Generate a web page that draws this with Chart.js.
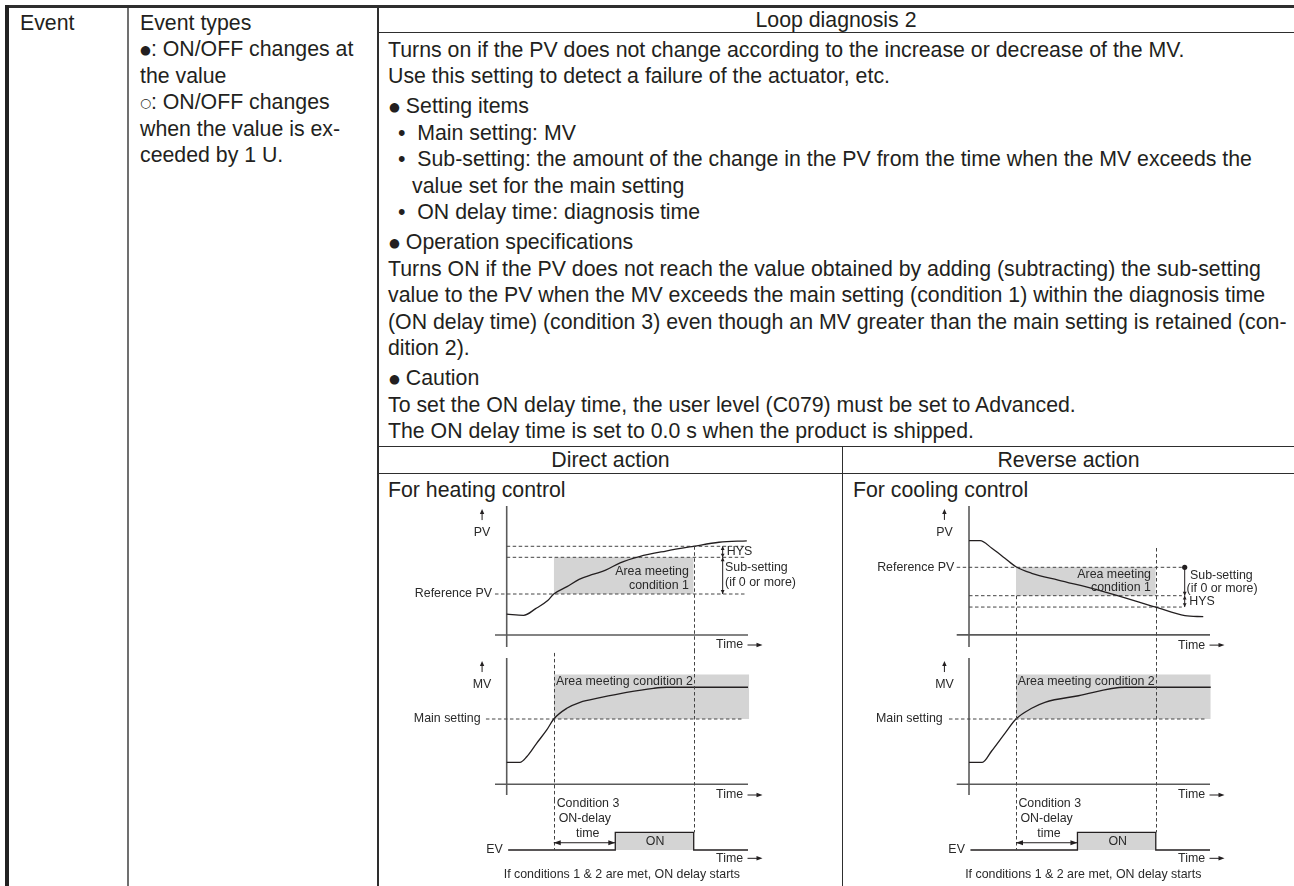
<!DOCTYPE html>
<html>
<head>
<meta charset="utf-8">
<title>Loop diagnosis 2</title>
<script src="https://cdn.jsdelivr.net/npm/chart.js@4.4.1/dist/chart.umd.min.js"></script>
<style>
  body { margin: 0; background: #fff; }
  #page { position: relative; width: 1294px; height: 886px; overflow: hidden;
          font-family: 'Liberation Sans', Arial, Helvetica, sans-serif; color: #231f20; }
  .t { position: absolute; font-size: 21.3px; line-height: 27px; white-space: nowrap; }
  .rule { position: absolute; background: #2e2e2e; }
  .dot { font-family: 'DejaVu Sans', sans-serif; font-size: 12.5px; position: relative; top: -2px; }
  canvas { position: absolute; }
</style>
</head>
<body>
<div id="page">
  <!-- table rules -->
  <div class="rule" style="left:5px;top:5px;width:1289px;height:3px;"></div>
  <div class="rule" style="left:5px;top:5px;width:4px;height:881px;background:#222;"></div>
  <div class="rule" style="left:127px;top:8px;width:1.5px;height:878px;background:#707070;"></div>
  <div class="rule" style="left:377px;top:8px;width:1.6px;height:878px;"></div>
  <div class="rule" style="left:378px;top:32px;width:916px;height:1.3px;"></div>
  <div class="rule" style="left:378px;top:446px;width:916px;height:1.3px;"></div>
  <div class="rule" style="left:378px;top:473px;width:916px;height:1.3px;"></div>
  <div class="rule" style="left:842px;top:446px;width:1.3px;height:440px;"></div>

  <!-- column 1 and 2 -->
  <div class="t" style="left:20px;top:10px;">Event</div>
  <div class="t" style="left:140px;top:10px;">Event types</div>
  <div class="t" style="left:140px;top:36.4px;"><span class="dot">●</span>: ON/OFF changes at</div>
  <div class="t" style="left:140px;top:62.8px;">the value</div>
  <div class="t" style="left:140px;top:89.2px;"><span class="dot">○</span>: ON/OFF changes</div>
  <div class="t" style="left:140px;top:115.6px;">when the value is ex-</div>
  <div class="t" style="left:140px;top:142px;">ceeded by 1 U.</div>

  <!-- column 3 -->
  <div class="t" style="left:378px;width:916px;text-align:center;top:7px;">Loop diagnosis 2</div>
  <div class="t" style="left:388px;top:36.5px;">Turns on if the PV does not change according to the increase or decrease of the MV.</div>
  <div class="t" style="left:388px;top:62.9px;">Use this setting to detect a failure of the actuator, etc.</div>
  <div class="t" style="left:389px;top:93.3px;"><span class="dot">●</span> Setting items</div>
  <div class="t" style="left:398px;top:119.7px;">•&nbsp; Main setting: MV</div>
  <div class="t" style="left:398px;top:146.1px;">•&nbsp; Sub-setting: the amount of the change in the PV from the time when the MV exceeds the</div>
  <div class="t" style="left:412px;top:172.5px;">value set for the main setting</div>
  <div class="t" style="left:398px;top:198.9px;">•&nbsp; ON delay time: diagnosis time</div>
  <div class="t" style="left:389px;top:229.3px;"><span class="dot">●</span> Operation specifications</div>
  <div class="t" style="left:388px;top:255.7px;">Turns ON if the PV does not reach the value obtained by adding (subtracting) the sub-setting</div>
  <div class="t" style="left:388px;top:282.1px;">value to the PV when the MV exceeds the main setting (condition 1) within the diagnosis time</div>
  <div class="t" style="left:388px;top:308.5px;">(ON delay time) (condition 3) even though an MV greater than the main setting is retained (con-</div>
  <div class="t" style="left:388px;top:334.9px;">dition 2).</div>
  <div class="t" style="left:389px;top:365.3px;"><span class="dot">●</span> Caution</div>
  <div class="t" style="left:388px;top:391.7px;">To set the ON delay time, the user level (C079) must be set to Advanced.</div>
  <div class="t" style="left:388px;top:418.1px;">The ON delay time is set to 0.0 s when the product is shipped.</div>

  <div class="t" style="left:378px;width:465px;text-align:center;top:446.5px;">Direct action</div>
  <div class="t" style="left:843px;width:451px;text-align:center;top:446.5px;">Reverse action</div>
  <div class="t" style="left:388px;top:476.5px;">For heating control</div>
  <div class="t" style="left:853px;top:476.5px;">For cooling control</div>
</div>

<script>
// ---- data (time 0..100 = length of the time axis) ----
const condStart = 19.5;   // MV reaches the main setting
const delayEnd = 45;      // ON-delay time elapsed, EV turns ON
const pvReach = 77.5;     // PV reaches setting + HYS, EV turns OFF

// heating (direct action)
const pvTimeHeat = [0, 7, 12, 17, 19.5, 25, 30, 36, 41, 47, 55, 66, 77.5, 88, 99.5];
const pvHeat = [44.5, 44.2, 46, 48.2, 50, 52, 54, 55.4, 56.5, 58.5, 60.2, 61.7, 63, 64.1, 64.5];
const mvTimeHeat = [0, 5.5, 8.3, 12.4, 16.6, 19.5, 24.9, 30.4, 38.7, 49.7, 60.8, 66.3, 100];
const mvHeat = [16.8, 16.8, 21.1, 31.4, 41.6, 50, 58.2, 62.8, 66.3, 70.4, 73.5, 74.3, 74.3];

// cooling (reverse action)
const pvTimeCool = [0, 4.6, 9.5, 14.9, 19.5, 26, 37, 53.7, 77.5, 89.6, 97.2];
const pvCool = [59.4, 59.4, 56.7, 53.2, 50.2, 47.9, 45.5, 42, 36, 33, 32.6];
const mvTimeCool = [0, 5.5, 9.4, 14.9, 19.5, 26, 31.5, 45.4, 64.7, 100.3];
const mvCool = [16.8, 16.8, 25.5, 39, 50, 58.2, 62.8, 67.8, 74.3, 74.3];

// event output
const evTime = [0.6, 45, 45, 77.5, 77.5, 100];
const evState = [0, 0, 1, 1, 0, 0];

// settings
const refPV = 50;
const subSettingHeat = 10, hysHeat = 3;
const subSettingCool = 10, hysCool = 4;
const mainSetting = 50, mvAreaTop = 84;

// ---- styling ----
const FONT = "'Liberation Sans', Arial, sans-serif";
const INK = '#231f20';
const AXIS = '#5a5a5a';
const DASH = '#444';
const SHADE = '#d4d4d4';

const pts = (xs, ys) => xs.map((x, i) => ({ x, y: ys[i] }));
const seg = (x1, y1, x2, y2) => [{ x: x1, y: y1 }, { x: x2, y: y2 }];
const curve = data => ({ data, borderColor: INK, borderWidth: 1.3, tension: 0.4, cubicInterpolationMode: 'monotone', fill: false });
const step = data => ({ data, borderColor: INK, borderWidth: 1.3, fill: false });
const dashed = data => ({ data, borderColor: DASH, borderWidth: 1, borderDash: [3.5, 2.5], fill: false });
const axis = data => ({ data, borderColor: AXIS, borderWidth: 1.6, fill: false });
const shade = (data, to) => ({ data, borderWidth: 0, borderColor: 'rgba(0,0,0,0)', backgroundColor: SHADE, fill: { value: to } });

function head(ctx, x, y, dx, dy, len, half) {
    ctx.beginPath();
    ctx.moveTo(x, y);
    ctx.lineTo(x - dx * len - dy * half, y - dy * len + dx * half);
    ctx.lineTo(x - dx * len + dy * half, y - dy * len - dx * half);
    ctx.closePath();
    ctx.fill();
}

// labels, arrows and dashed guides, placed through the chart scales
const marksPlugin = {
    id: 'marks',
    afterDatasetsDraw(chart, args, opts) {
        const ctx = chart.ctx;
        const X = t => chart.scales.x.getPixelForValue(t);
        const Y = v => (typeof v === 'string') ? opts.seams[v] : chart.scales.y.getPixelForValue(v);
        ctx.save();

        ctx.strokeStyle = DASH;
        ctx.lineWidth = 1;
        ctx.setLineDash([3.5, 2.5]);
        (opts.vlines || []).forEach(l => {
            ctx.beginPath();
            ctx.moveTo(Math.round(X(l.t)) + 0.5, Y(l.from));
            ctx.lineTo(Math.round(X(l.t)) + 0.5, Y(l.to));
            ctx.stroke();
        });
        ctx.setLineDash([]);

        ctx.strokeStyle = INK;
        ctx.fillStyle = INK;
        ctx.lineWidth = 1;
        (opts.arrows || []).forEach(a => {
            if (a.kind === 'up') {
                const x = X(a.t), y = Y(a.v);
                ctx.beginPath(); ctx.moveTo(x, y - 13); ctx.lineTo(x, y - 20); ctx.stroke();
                head(ctx, x, y - 24, 0, -1, 5, 2.2);
            } else if (a.kind === 'time') {
                const x = X(a.t), y = Y(a.v);
                ctx.beginPath(); ctx.moveTo(x, y); ctx.lineTo(x + 10, y); ctx.stroke();
                head(ctx, x + 15, y, 1, 0, 6, 2.2);
            } else if (a.kind === 'span') {
                const x = X(a.t), y1 = Y(a.v1), y2 = Y(a.v2);
                const d = Math.sign(y2 - y1);
                const hl = Math.min(4, Math.abs(y2 - y1) / 3);
                ctx.beginPath(); ctx.moveTo(x, y1); ctx.lineTo(x, y2); ctx.stroke();
                head(ctx, x, y2, 0, d, hl, 1.9);
                if (!a.dot) head(ctx, x, y1, 0, -d, hl, 1.9);
                else { ctx.beginPath(); ctx.arc(x, y1, 2.6, 0, Math.PI * 2); ctx.fill(); }
            } else if (a.kind === 'hspan') {
                const x1 = X(a.t1), x2 = X(a.t2), y = Y(a.v);
                ctx.beginPath(); ctx.moveTo(x1, y); ctx.lineTo(x2, y); ctx.stroke();
                head(ctx, x1, y, -1, 0, 7, 2.4);
                head(ctx, x2, y, 1, 0, 7, 2.4);
            }
        });

        ctx.font = '12.4px ' + FONT;
        ctx.fillStyle = '#2a2a2a';
        ctx.textBaseline = 'middle';
        (opts.labels || []).forEach(l => {
            ctx.textAlign = l.align || 'left';
            ctx.fillText(l.text, X(l.t), Y(l.v));
        });
        ctx.restore();
    }
};

// horizontal layout of each half: where time 0 sits and pixels per time unit
const sides = {
    heat: { left: 400, width: 445, axisPx: 506.7, pxPerT: 2.413 },
    cool: { left: 845, width: 449, axisPx: 969, pxPerT: 2.41 }
};
// vertical bands of the three small graphs
const rows = {
    pv: { top: 500, bottom: 660, seamTop: 500, seamBottom: 650 },
    mv: { top: 650, bottom: 806, seamTop: 650, seamBottom: 800 },
    ev: { top: 794, bottom: 886, seamTop: 800, seamBottom: 886 }
};

function panel(side, row, yMap, datasets, marks) {
    const s = sides[side], r = rows[row];
    const canvas = document.createElement('canvas');
    canvas.width = s.width;
    canvas.height = r.bottom - r.top;
    canvas.style.left = s.left + 'px';
    canvas.style.top = r.top + 'px';
    document.getElementById('page').appendChild(canvas);

    const xMin = -(s.axisPx - s.left) / s.pxPerT;
    const xMax = xMin + s.width / s.pxPerT;
    const yMax = yMap.v + (yMap.px - r.top) / yMap.pxPerV;
    const yMin = yMap.v - (r.bottom - yMap.px) / yMap.pxPerV;
    marks.seams = { seamTop: r.seamTop - r.top, seamBottom: r.seamBottom - r.top };

    return new Chart(canvas.getContext('2d'), {
        type: 'line',
        data: { datasets },
        options: {
            responsive: false,
            animation: false,
            devicePixelRatio: 1,
            layout: { padding: 0 },
            elements: { point: { radius: 0, hoverRadius: 0 } },
            plugins: { legend: { display: false }, tooltip: { enabled: false }, marks },
            scales: {
                x: { type: 'linear', min: xMin, max: xMax, display: false },
                y: { type: 'linear', min: yMin, max: yMax, display: false }
            }
        },
        plugins: [marksPlugin]
    });
}

const mvMap = { v: 0, px: 784.3, pxPerV: 1.306 };
const evMap = { v: 0, px: 850, pxPerV: 17.7 };

// ---------- direct action / heating ----------
const hSub = refPV + subSettingHeat, hHys = hSub + hysHeat;
panel('heat', 'pv', { v: refPV, px: 594, pxPerV: 3.67 }, [
    curve(pts(pvTimeHeat, pvHeat)),
    dashed(seg(-4.85, refPV, 98.8, refPV)),
    dashed(seg(0, hSub, 98.8, hSub)),
    dashed(seg(0, hHys, 98.8, hHys)),
    axis(seg(0, 35.56, 0, 73.98)),
    axis(seg(-4.85, 38.83, 100, 38.83)),
    shade(seg(condStart, refPV, pvReach, refPV), hSub)
], {
    vlines: [{ t: pvReach, from: hHys, to: 'seamBottom' }],
    arrows: [
        { kind: 'up', t: -10.2, v: 66.6 },
        { kind: 'time', t: 99.8, v: 36.1 },
        { kind: 'span', t: 89.5, v1: hSub, v2: hHys },
        { kind: 'span', t: 89.5, v1: refPV, v2: hSub }
    ],
    labels: [
        { text: 'PV', t: -10.2, v: 66.6, align: 'center' },
        { text: 'Reference PV', t: -6.1, v: refPV, align: 'right' },
        { text: 'HYS', t: 91.2, v: 61.6 },
        { text: 'Sub-setting', t: 90.5, v: 57.1 },
        { text: '(if 0 or more)', t: 90.5, v: 53 },
        { text: 'Area meeting', t: 75.5, v: 56.1, align: 'right' },
        { text: 'condition 1', t: 75.5, v: 52.3, align: 'right' },
        { text: 'Time', t: 98, v: 36.1, align: 'right' }
    ]
});

panel('heat', 'mv', mvMap, [
    curve(pts(mvTimeHeat, mvHeat)),
    dashed(seg(-8.6, mainSetting, 97.9, mainSetting)),
    axis(seg(0, -8.2, 0, 96.7)),
    axis(seg(-4.85, 0, 100, 0)),
    shade(seg(condStart, mainSetting, 100.5, mainSetting), mvAreaTop)
], {
    vlines: [{ t: condStart, from: 100.6, to: 'seamBottom' }, { t: pvReach, from: 'seamTop', to: 'seamBottom' }],
    arrows: [{ kind: 'up', t: -10.2, v: 76 }, { kind: 'time', t: 99.8, v: -8.2 }],
    labels: [
        { text: 'MV', t: -10.2, v: 76, align: 'center' },
        { text: 'Main setting', t: -10.8, v: mainSetting, align: 'right' },
        { text: 'Area meeting condition 2', t: 20.4, v: 78.6 },
        { text: 'Time', t: 98, v: -8.2, align: 'right' }
    ]
});

panel('heat', 'ev', evMap, [
    step(pts(evTime, evState)),
    shade(seg(delayEnd, 1, pvReach, 1), 0)
], {
    vlines: [{ t: condStart, from: 'seamTop', to: 0 }, { t: pvReach, from: 'seamTop', to: 1 }],
    arrows: [{ kind: 'hspan', t1: condStart, t2: delayEnd, v: 0.41 }, { kind: 'time', t: 99.8, v: -0.47 }],
    labels: [
        { text: 'Condition 3', t: 20.7, v: 2.6 },
        { text: 'ON-delay', t: 32.4, v: 1.79, align: 'center' },
        { text: 'time', t: 33.6, v: 0.94, align: 'center' },
        { text: 'ON', t: 61.5, v: 0.47, align: 'center' },
        { text: 'EV', t: -1.6, v: 0, align: 'right' },
        { text: 'Time', t: 98, v: -0.47, align: 'right' },
        { text: 'If conditions 1 & 2 are met, ON delay starts', t: 47.7, v: -1.41, align: 'center' }
    ]
});

// ---------- reverse action / cooling ----------
const cSub = refPV - subSettingCool, cHys = cSub - hysCool;
panel('cool', 'pv', { v: refPV, px: 567.3, pxPerV: 2.84 }, [
    curve(pts(pvTimeCool, pvCool)),
    dashed(seg(-5.1, refPV, 88.3, refPV)),
    dashed(seg(0, cSub, 88.3, cSub)),
    dashed(seg(0, cHys, 88.3, cHys)),
    axis(seg(0, 21.9, 0, 71.6)),
    axis(seg(-5.1, 26.2, 100, 26.2)),
    shade(seg(condStart, cSub, pvReach, cSub), refPV)
], {
    vlines: [{ t: pvReach, from: 56.8, to: 'seamBottom' }, { t: condStart, from: cSub, to: 'seamBottom' }],
    arrows: [
        { kind: 'up', t: -10.2, v: 62.1 },
        { kind: 'time', t: 99.8, v: 22.6 },
        { kind: 'span', t: 89.5, v1: refPV, v2: cSub, dot: true },
        { kind: 'span', t: 89.5, v1: cSub, v2: cHys }
    ],
    labels: [
        { text: 'PV', t: -10.2, v: 62.1, align: 'center' },
        { text: 'Reference PV', t: -6.1, v: refPV, align: 'right' },
        { text: 'Sub-setting', t: 91.7, v: 47 },
        { text: '(if 0 or more)', t: 90.3, v: 42.6 },
        { text: 'HYS', t: 91.4, v: 37.8 },
        { text: 'Area meeting', t: 75.5, v: 47.3, align: 'right' },
        { text: 'condition 1', t: 75.5, v: 42.8, align: 'right' },
        { text: 'Time', t: 98, v: 22.6, align: 'right' }
    ]
});

panel('cool', 'mv', mvMap, [
    curve(pts(mvTimeCool, mvCool)),
    dashed(seg(-8.3, mainSetting, 97.9, mainSetting)),
    axis(seg(0, -8.2, 0, 96.7)),
    axis(seg(-5.1, 0, 100, 0)),
    shade(seg(condStart, mainSetting, 100.3, mainSetting), mvAreaTop)
], {
    vlines: [{ t: condStart, from: 'seamTop', to: 'seamBottom' }, { t: pvReach, from: 'seamTop', to: 'seamBottom' }],
    arrows: [{ kind: 'up', t: -10.2, v: 76 }, { kind: 'time', t: 99.8, v: -8.2 }],
    labels: [
        { text: 'MV', t: -10.2, v: 76, align: 'center' },
        { text: 'Main setting', t: -10.9, v: mainSetting, align: 'right' },
        { text: 'Area meeting condition 2', t: 20.2, v: 78.6 },
        { text: 'Time', t: 98, v: -8.2, align: 'right' }
    ]
});

panel('cool', 'ev', evMap, [
    step(pts(evTime, evState)),
    shade(seg(delayEnd, 1, pvReach, 1), 0)
], {
    vlines: [{ t: condStart, from: 'seamTop', to: 0 }, { t: pvReach, from: 'seamTop', to: 1 }],
    arrows: [{ kind: 'hspan', t1: condStart, t2: delayEnd, v: 0.41 }, { kind: 'time', t: 99.8, v: -0.47 }],
    labels: [
        { text: 'Condition 3', t: 20.5, v: 2.6 },
        { text: 'ON-delay', t: 32.2, v: 1.79, align: 'center' },
        { text: 'time', t: 33.2, v: 0.94, align: 'center' },
        { text: 'ON', t: 61.7, v: 0.47, align: 'center' },
        { text: 'EV', t: -1.7, v: 0, align: 'right' },
        { text: 'Time', t: 98, v: -0.47, align: 'right' },
        { text: 'If conditions 1 & 2 are met, ON delay starts', t: 47.4, v: -1.41, align: 'center' }
    ]
});
</script>
</body>
</html>
